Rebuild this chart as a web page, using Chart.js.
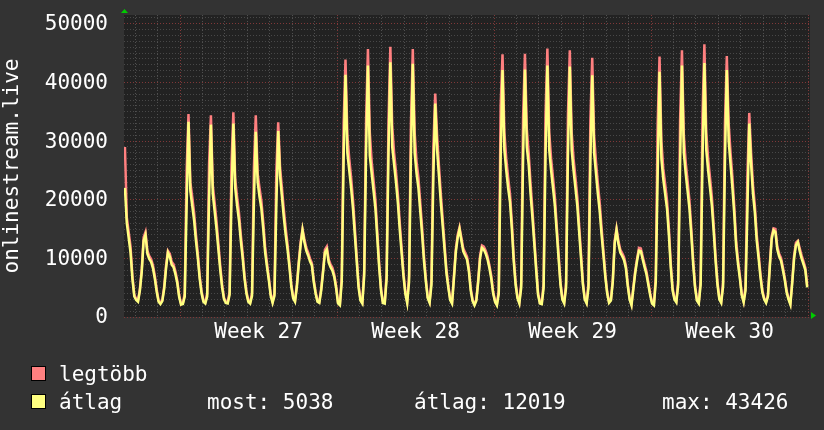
<!DOCTYPE html>
<html>
<head>
<meta charset="utf-8">
<script src="https://cdn.jsdelivr.net/npm/chart.js@4.4.1/dist/chart.umd.min.js"></script>
<style>
  html, body { margin: 0; padding: 0; background: #333333; }
  #wrap { position: relative; width: 824px; height: 430px; font-family: "DejaVu Sans Mono", monospace; font-size: 21px; color: #ffffff; }
  #chartStream { position: absolute; left: 0; top: 0; }
  .txt { position: absolute; white-space: pre; line-height: 24px; }
  .box { position: absolute; width: 13px; height: 13px; border: 1px solid #000000; }
</style>
</head>
<body>
<div id="wrap">
  <canvas id="chartStream" width="824" height="430"></canvas>
  <div class="box" style="left:31px; top:366px; background:#ff8080;"></div>
  <div class="txt" style="left:59px; top:362px;">legtöbb</div>
  <div class="box" style="left:31px; top:394px; background:#ffff80;"></div>
  <div class="txt" style="left:59px; top:390px;">átlag</div>
  <div class="txt" style="left:207px; top:390px;">most: 5038</div>
  <div class="txt" style="left:414px; top:390px;">átlag: 12019</div>
  <div class="txt" style="left:662px; top:390px;">max: 43426</div>
</div>
<script>
// hours are counted from Monday 00:00 of week 27, one sample every 2 hours
const startHour = -59;
const stepHours = 2;

const weekLabels = ["Week 27", "Week 28", "Week 29", "Week 30"];
const weekMidHours = [84, 252, 420, 588];

// átlag (average), 12 samples per day (01h, 03h ... 23h)
const atlag = [
  22000, 16000, 13500, 11000, 6500, 3500,
  2900, 2600, 4500, 7700, 13000, 14000, 10800, 9900, 9400, 8300, 6500, 4300,
  2600, 2200, 2700, 4800, 8300, 11000, 10300, 8900, 8500, 7300, 5800, 3400,
  // week 27
  2100, 2200, 3500, 19000, 33300, 21500, 19000, 16500, 13000, 10000, 6500, 4000,
  2600, 2300, 3500, 20000, 32800, 21000, 18000, 15000, 11500, 8000, 5000, 3000,
  2400, 2300, 3800, 20000, 33000, 22000, 19000, 16500, 13000, 10000, 6500, 4000,
  2600, 2300, 3600, 19500, 31600, 23000, 20500, 18500, 15000, 11000, 8500, 6200,
  3600, 2400, 3600, 19000, 31700, 24000, 20500, 17000, 14000, 11500, 8500, 5200,
  3200, 2600, 5200, 9000, 12300, 14800, 12800, 11300, 10500, 9500, 8800, 6000,
  4000, 2600, 2400, 4500, 7600, 11000, 11500, 9300, 8500, 7900, 6800, 4900,
  // week 28
  2300, 2000, 6000, 27000, 41300, 28000, 25000, 22000, 18500, 14000, 9500, 5000,
  2800, 2300, 7000, 28000, 42900, 27500, 24500, 21500, 18500, 13500, 8500, 4500,
  2400, 2300, 6500, 28000, 43426, 29000, 26000, 23000, 19500, 15000, 11000, 7000,
  4000, 2400, 6000, 27500, 43200, 28000, 24500, 22000, 18000, 14000, 9500, 6000,
  3200, 2400, 5500, 24000, 36400, 28500, 24000, 19500, 15500, 11500, 7500, 5000,
  2900, 2300, 6500, 11000, 13500, 15000, 13000, 11200, 10500, 9800, 7800, 4500,
  2700, 2000, 2800, 6000, 10000, 11800, 11500, 10800, 9800, 8300, 6500, 4000,
  // week 29
  2600, 2000, 4000, 27000, 42100, 28500, 25000, 22000, 19600, 15000, 9500, 5500,
  3200, 2300, 5000, 27000, 42200, 29000, 26000, 21000, 17000, 12500, 8000, 3800,
  2300, 2200, 5000, 27500, 42900, 28500, 25000, 22000, 19000, 14500, 10000, 5500,
  3000, 2300, 5000, 27500, 42700, 28500, 25000, 22000, 19000, 14500, 10000, 5500,
  3000, 2300, 5000, 26500, 41200, 28000, 24500, 21000, 18000, 14000, 10500, 6800,
  4000, 2400, 2800, 6000, 12500, 14800, 12500, 11000, 10400, 9700, 8300, 5300,
  3000, 2000, 4800, 7500, 9600, 11300, 11200, 9800, 8500, 7300, 5500, 3700,
  // week 30
  2300, 2000, 6000, 24000, 41800, 27000, 23500, 21000, 18500, 14000, 8500, 4500,
  3000, 2500, 5500, 26000, 42900, 28000, 24500, 21500, 18500, 14000, 9000, 5000,
  2800, 2300, 5500, 27000, 43300, 28500, 25000, 22000, 19000, 14500, 9500, 5500,
  3000, 2400, 5200, 26500, 42100, 30000, 26000, 22000, 17500, 12000, 9000, 6500,
  3700, 2500, 4500, 18000, 33000, 26000, 21000, 17800, 13000, 10000, 6800, 4200,
  3000, 2400, 3500, 8500, 13300, 14800, 14500, 11500, 10300, 9600, 8000, 6300,
  4200, 3000, 2100, 5800, 10000, 12300, 12800, 11200, 10000, 9000, 8000, 5038
];

// legtöbb (maximum)
const legtobb = [
  29000, 17000, 14500, 12000, 7000, 3800,
  3100, 2800, 4800, 8200, 13600, 14500, 11300, 10400, 9900, 8800, 7000, 4700,
  2800, 2400, 2900, 5200, 8800, 11300, 10800, 9400, 9000, 7800, 6200, 3700,
  // week 27
  2300, 2400, 4000, 25000, 34600, 23000, 20500, 17800, 14000, 10800, 7000, 4400,
  2800, 2500, 4000, 26000, 34400, 22500, 19500, 16300, 12500, 8700, 5500, 3300,
  2600, 2500, 4300, 26000, 34900, 23500, 20500, 17800, 14000, 10800, 7000, 4400,
  2800, 2500, 4100, 25500, 34400, 24500, 22000, 19800, 16200, 12000, 9200, 6700,
  3900, 2600, 4100, 25000, 33200, 25500, 22000, 18300, 15100, 12400, 9200, 5600,
  3400, 2800, 5600, 9500, 12800, 15000, 13300, 11800, 11000, 10000, 9200, 6400,
  4300, 2800, 2600, 4900, 8000, 11500, 12000, 9800, 9000, 8400, 7200, 5200,
  // week 28
  2500, 2200, 7000, 33000, 43900, 31000, 27000, 23800, 20000, 15200, 10300, 5500,
  3000, 2500, 8000, 33500, 45700, 31500, 26500, 23300, 20000, 14600, 9200, 4900,
  2600, 2500, 7500, 33500, 46100, 32500, 28000, 24800, 21000, 16200, 11900, 7600,
  4300, 2600, 7000, 33000, 45700, 31500, 26500, 23800, 19500, 15200, 10300, 6500,
  3400, 2600, 6500, 29000, 38100, 31000, 25800, 21000, 16700, 12400, 8100, 5400,
  3100, 2500, 7000, 11500, 14000, 15300, 13500, 11700, 11000, 10300, 8300, 4900,
  2900, 2200, 3000, 6400, 10500, 12200, 12000, 11300, 10300, 8800, 7000, 4300,
  // week 29
  2800, 2200, 4600, 36000, 44800, 31500, 27000, 23800, 21000, 16200, 10300, 6000,
  3400, 2500, 5800, 34000, 44900, 32000, 28000, 22800, 18300, 13500, 8700, 4200,
  2500, 2400, 5800, 34500, 45800, 31500, 27000, 23800, 20500, 15600, 10800, 6000,
  3200, 2500, 5800, 34500, 45500, 31500, 27000, 23800, 20500, 15600, 10800, 6000,
  3200, 2500, 5800, 33500, 44200, 31000, 26500, 22800, 19500, 15200, 11300, 7300,
  4300, 2600, 3000, 6400, 13000, 15100, 13000, 11500, 10900, 10200, 8800, 5700,
  3200, 2200, 5100, 7900, 10000, 11800, 11700, 10300, 9000, 7800, 5900, 4000,
  // week 30
  2500, 2200, 7000, 33000, 44400, 30000, 25300, 22700, 19900, 15100, 9200, 4900,
  3200, 2700, 6300, 33500, 45500, 31000, 26400, 23200, 19900, 15100, 9700, 5400,
  3000, 2500, 6300, 34500, 46500, 31500, 27000, 23800, 20500, 15600, 10300, 6000,
  3200, 2600, 6000, 33000, 44500, 33000, 28000, 23800, 18800, 13000, 9700, 7000,
  3900, 2700, 5200, 24000, 34800, 28000, 22500, 19000, 14000, 10800, 7300, 4600,
  3200, 2600, 3800, 9000, 13800, 15100, 15000, 12000, 10800, 10100, 8500, 6700,
  4500, 3200, 2300, 6200, 10500, 12700, 13000, 11700, 10500, 9500, 8400, 5400
];

const yTickStep = 1000;
const yLabelStep = 10000;

function toPoints(values) {
  return values.map(function (v, i) {
    return { x: startHour + i * stepHours, y: v };
  });
}

const fontMono = { family: '"DejaVu Sans Mono", monospace', size: 21 };

const rrdLook = {
  id: "rrdLook",
  beforeDraw: function (chart) {
    var ctx = chart.ctx;
    var a = chart.chartArea;
    ctx.save();
    ctx.fillStyle = "#333333";
    ctx.fillRect(0, 0, chart.width, chart.height);
    ctx.fillStyle = "#222222";
    ctx.fillRect(a.left, a.top, a.right - a.left, a.bottom - a.top);
    ctx.restore();
  },
  afterDraw: function (chart) {
    var ctx = chart.ctx;
    var a = chart.chartArea;
    ctx.save();
    ctx.fillStyle = "#00cc00";
    // arrow on top of the y axis
    ctx.beginPath();
    ctx.moveTo(a.left - 3, a.top - 2);
    ctx.lineTo(a.left + 4, a.top - 2);
    ctx.lineTo(a.left + 0.5, a.top - 6);
    ctx.fill();
    // arrow at the end of the x axis
    ctx.beginPath();
    ctx.moveTo(a.right + 1, a.bottom - 5);
    ctx.lineTo(a.right + 1, a.bottom + 2);
    ctx.lineTo(a.right + 6, a.bottom - 1.5);
    ctx.fill();
    ctx.restore();
  }
};

var chartStream = new Chart(document.getElementById("chartStream"), {
  type: "line",
  data: {
    datasets: [
      {
        label: "átlag",
        data: toPoints(atlag),
        borderColor: "#ffff80",
        borderWidth: 2.5,
        pointRadius: 0,
        fill: false,
        order: 1
      },
      {
        label: "legtöbb",
        data: toPoints(legtobb),
        borderColor: "#ff8080",
        borderWidth: 2.5,
        pointRadius: 0,
        fill: false,
        order: 2
      }
    ]
  },
  options: {
    responsive: false,
    devicePixelRatio: 1,
    animation: false,
    layout: { padding: { left: 0, top: 15, right: 14, bottom: 83 } },
    plugins: { legend: { display: false }, tooltip: { enabled: false } },
    scales: {
      x: {
        type: "linear",
        min: -60,
        max: 674,
        afterFit: function (scale) {
          scale.height = 30;
          scale.paddingLeft = 0;
          scale.paddingRight = 0;
        },
        afterBuildTicks: function (scale) {
          var t = [];
          for (var h = -48; h <= 672; h += 12) t.push({ value: h });
          scale.ticks = t;
        },
        ticks: {
          autoSkip: false,
          maxRotation: 0,
          padding: 3,
          color: "#ffffff",
          font: fontMono,
          callback: function (value) {
            var k = weekMidHours.indexOf(value);
            return k >= 0 ? weekLabels[k] : "";
          }
        },
        grid: {
          drawTicks: false,
          lineWidth: 1,
          color: function (ctx) {
            var v = ctx.tick.value;
            if (v % 24 !== 0) return "rgba(0,0,0,0)";
            if (v % 168 === 0) return "#803838";
            return "#505050";
          }
        },
        border: { display: false, dash: [1, 2] }
      },
      y: {
        min: 0,
        max: 51500,
        afterFit: function (scale) {
          scale.width = 124;
          scale.paddingTop = 0;
          scale.paddingBottom = 0;
        },
        afterBuildTicks: function (scale) {
          var t = [];
          for (var v = 0; v <= 51000; v += yTickStep) t.push({ value: v });
          scale.ticks = t;
        },
        ticks: {
          autoSkip: false,
          padding: 16,
          labelOffset: 1,
          color: "#ffffff",
          font: fontMono,
          callback: function (value) {
            return value % yLabelStep === 0 ? String(value) : "";
          }
        },
        grid: {
          drawTicks: false,
          lineWidth: 1,
          color: function (ctx) {
            return ctx.tick.value % yLabelStep === 0 ? "#803838" : "#484848";
          }
        },
        border: { display: false, dash: [1, 2] },
        title: {
          display: true,
          text: "onlinestream.live",
          color: "#ffffff",
          font: fontMono,
          padding: { top: 0, bottom: 0 }
        }
      }
    }
  },
  plugins: [rrdLook]
});
</script>
</body>
</html>
